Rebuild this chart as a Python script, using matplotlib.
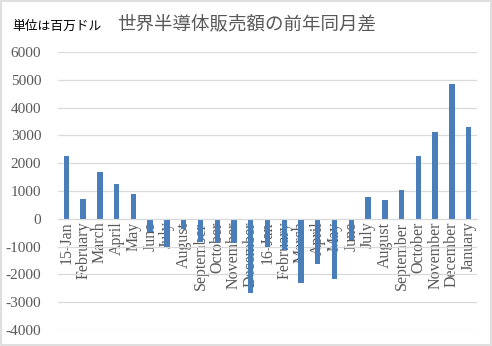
import numpy as np
import matplotlib
matplotlib.use('Agg')
import matplotlib.pyplot as plt
from matplotlib.patches import Rectangle

# monthly change vs. same month a year earlier (million USD)
months = ['15-Jan', 'February', 'March', 'April', 'May', 'June', 'July',
          'August', 'September', 'October', 'November', 'December',
          '16-Jan', 'February', 'March', 'April', 'May', 'June', 'July',
          'August', 'September', 'October', 'November', 'December', 'January']
diff = [2250, 720, 1690, 1250, 910, -490, -1000, -370, -820, -870, -880, -2670,
        -1000, -1110, -2310, -1630, -2170, -760, 780, 660, 1040, 2250, 3120,
        4860, 3300]
yticks = list(range(-4000, 6001, 1000))

serif = 'Liberation Serif'
gray = '#595959'

fig = plt.figure(figsize=(4.92, 3.46), dpi=100)
ax = fig.add_axes([58/492, 1 - 330/346, (477-58)/492, (330-52)/346])

x = np.arange(len(months))
ax.bar(x, diff, width=0.32, color='#4a7ebb', zorder=3)

ax.set_xlim(-0.5, len(months) - 0.5)
ax.set_ylim(-4000, 6000)
ax.set_yticks(yticks)
ax.set_yticklabels([str(v).replace('-', '\u2010') for v in yticks],
                   fontfamily=serif, fontsize=11, color=gray)
ax.grid(axis='y', color='#d9d9d9', lw=0.9, zorder=0)
for s in ['top', 'right', 'left']:
    ax.spines[s].set_visible(False)
ax.spines['bottom'].set_position(('data', 0))
ax.spines['bottom'].set_color('#d9d9d9')
ax.spines['bottom'].set_zorder(4)
ax.tick_params(axis='y', length=0, pad=12)
ax.tick_params(axis='x', length=0, pad=2)
ax.set_xticks(x)
ax.set_xticklabels(months, rotation=90, fontfamily=serif, fontsize=11.5,
                   color=gray, va='top', ha='center')
for lab in ax.get_xticklabels():
    lab.set_zorder(5)

fig.text(0.502, 1 - 24/346, '世界半導体販売額の前年同月差', ha='center', va='center',
         fontfamily='Noto Sans CJK JP', fontsize=13.3, color=gray)
fig.text(12/492, 1 - 26/346, '単位は百万ドル', ha='left', va='center',
         fontfamily='Noto Sans CJK JP', fontsize=9.2, color='black')

fig.patches.append(Rectangle((0.002, 0.003), 0.995, 0.994, transform=fig.transFigure,
                             fill=False, edgecolor='#d9d9d9', lw=1.2))

fig.savefig('out.png', dpi=100)
